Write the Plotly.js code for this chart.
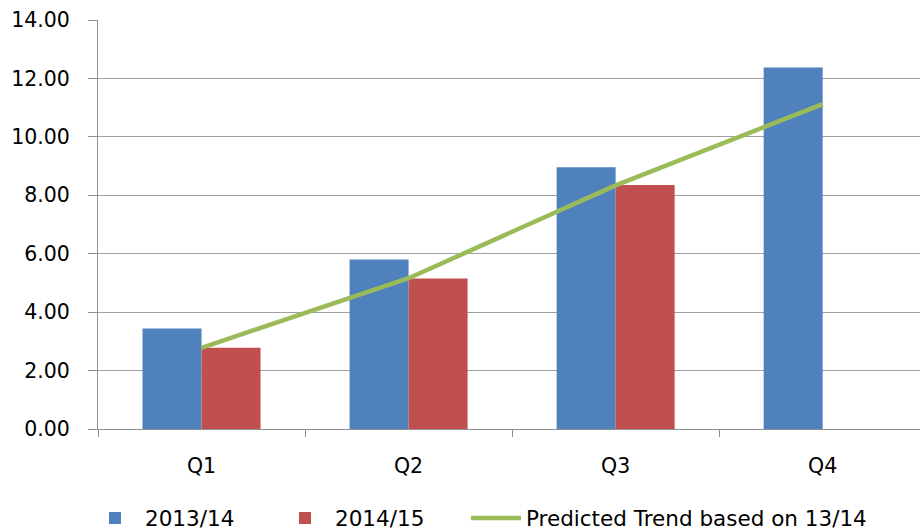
<!DOCTYPE html>
<html>
<head>
<meta charset="utf-8">
<script src="https://cdn.plot.ly/plotly-3.0.1.min.js"></script>
<style>html,body{margin:0;padding:0;background:#fff;}#chart{width:920px;height:532px;}</style>
</head>
<body>
<div id="chart"></div>
<script>
var categories = ["Q1", "Q2", "Q3", "Q4"];
var values1314 = [3.44, 5.80, 8.96, 12.37];
var values1415 = [2.78, 5.15, 8.35, null];
var trendValues = [2.78, 5.16, 8.34, 11.12];
var seriesNames = ["2013/14", "2014/15", "Predicted Trend based on 13/14"];
var yTicks = [0, 2, 4, 6, 8, 10, 12, 14];

var FONT = "DejaVu Sans, Liberation Sans, sans-serif";

var traces = [
  {type: "bar", name: seriesNames[0], x: categories, y: values1314, legend: "legend",
   marker: {color: "#4F81BD"}, hoverinfo: "skip"},
  {type: "bar", name: seriesNames[1], x: categories, y: values1415, legend: "legend2",
   marker: {color: "#C0504D"}, hoverinfo: "skip"},
  {type: "scatter", mode: "lines", name: seriesNames[2], x: categories, y: trendValues, legend: "legend3",
   line: {color: "#9BBB59", width: 4.5}, hoverinfo: "skip"}
];

function leg(xpx) {
  return {orientation: "h", xref: "container", yref: "container",
          x: xpx / 920, xanchor: "left", y: 14 / 532, yanchor: "middle",
          font: {family: FONT, size: 21.5, color: "#000"},
          itemwidth: 50, bgcolor: "rgba(0,0,0,0)"};
}

var layout = {
  width: 920, height: 532,
  margin: {l: 98, r: 0, t: 20, b: 102.5, pad: 0},
  paper_bgcolor: "#fff", plot_bgcolor: "#fff",
  barmode: "group", bargap: 0.43, bargroupgap: 0,
  showlegend: true,
  legend: leg(85),
  legend2: leg(275),
  legend3: leg(466),
  xaxis: {type: "category", range: [-0.5, 3.47], showgrid: false,
          showline: true, linecolor: "#909090", linewidth: 1,
          ticks: "outside", tickson: "boundaries", ticklen: 7, tickcolor: "#909090",
          tickfont: {family: FONT, size: 20.5, color: "#000"}, ticklabelstandoff: 18,
          fixedrange: true},
  yaxis: {range: [0, 14], tickvals: yTicks, tickformat: ".2f",
          showgrid: true, gridcolor: "#A0A0A0", gridwidth: 1,
          showline: true, linecolor: "#909090", linewidth: 1,
          zeroline: false,
          ticks: "outside", ticklen: 9, tickcolor: "#909090",
          tickfont: {family: FONT, size: 20.5, color: "#000"}, ticklabelstandoff: 14,
          fixedrange: true}
};

Plotly.newPlot("chart", traces, layout, {staticPlot: true, displayModeBar: false});
</script>
</body>
</html>
